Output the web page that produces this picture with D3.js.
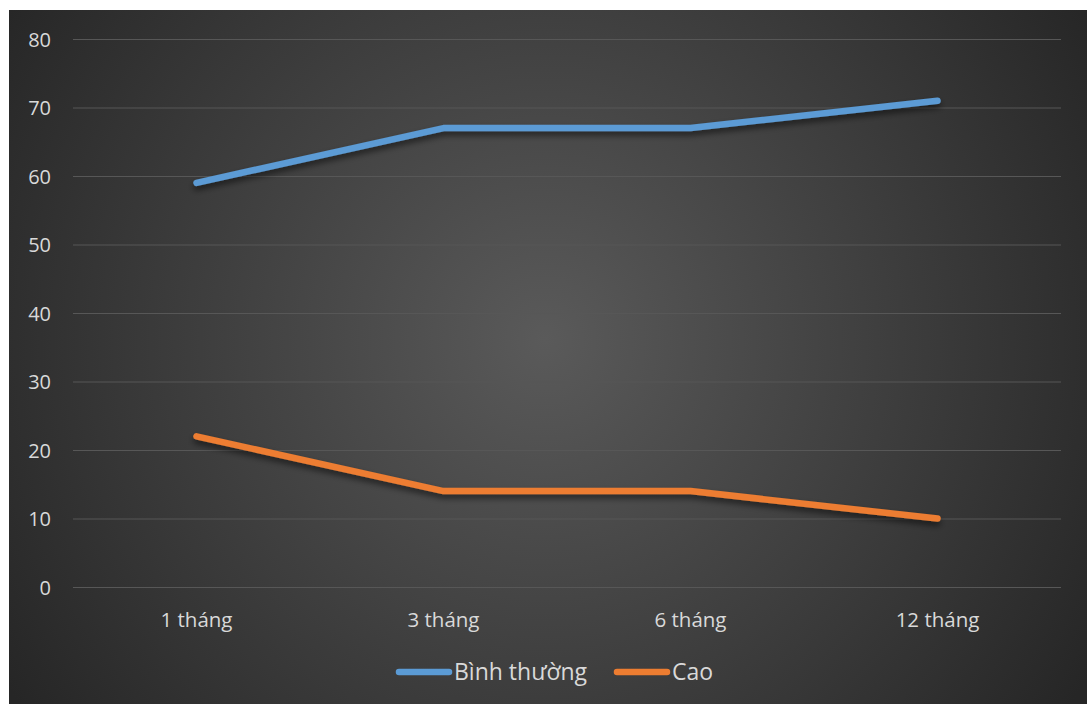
<!DOCTYPE html>
<html>
<head>
<meta charset="utf-8">
<script src="https://cdn.jsdelivr.net/npm/d3@7"></script>
<style>
  html, body { margin: 0; padding: 0; background: #ffffff; }
  svg { display: block; }
</style>
</head>
<body>
<svg id="chart" width="1087" height="704"></svg>
<script>
const categories = ["1 tháng", "3 tháng", "6 tháng", "12 tháng"];
const seriesNames = ["Bình thường", "Cao"];
const normalValues = [59, 67, 67, 71];
const highValues = [22, 14, 14, 10];
const yTicks = [0, 10, 20, 30, 40, 50, 60, 70, 80];
const seriesColors = ["#5B9BD5", "#ED7D31"];

const series = [
  { name: seriesNames[0], values: normalValues, color: seriesColors[0] },
  { name: seriesNames[1], values: highValues, color: seriesColors[1] }
];

const W = 1087, H = 704;
const svg = d3.select("#chart");
const font = "'Open Sans', 'Noto Sans', sans-serif";

const defs = svg.append("defs");
const grad = defs.append("radialGradient")
  .attr("id", "bg").attr("gradientUnits", "userSpaceOnUse")
  .attr("cx", 545).attr("cy", 340).attr("r", 640);
grad.append("stop").attr("offset", "0%").attr("stop-color", "#5a5a5a");
grad.append("stop").attr("offset", "100%").attr("stop-color", "#262626");

const shadow = defs.append("filter").attr("id", "shadow")
  .attr("x", "-10%").attr("y", "-50%").attr("width", "120%").attr("height", "200%");
shadow.append("feDropShadow").attr("dx", 0).attr("dy", 4).attr("stdDeviation", 3)
  .attr("flood-color", "#000").attr("flood-opacity", 0.55);

// Chart background
svg.append("rect").attr("x", 9).attr("y", 10).attr("width", W - 9).attr("height", H - 10)
  .attr("fill", "url(#bg)");

const margin = { left: 73, right: 1061, top: 39, bottom: 587 };
const x = d3.scaleBand().domain(categories).range([margin.left, margin.right]);
const y = d3.scaleLinear().domain([0, 80]).range([margin.bottom, margin.top]);

// Horizontal gridlines
svg.append("g").selectAll("line").data(yTicks).join("line")
  .attr("x1", margin.left).attr("x2", margin.right)
  .attr("y1", d => y(d) + 0.5).attr("y2", d => y(d) + 0.5)
  .attr("stroke", "#575757").attr("stroke-width", 1);

// Y axis labels
const yAxis = d3.axisLeft(y).tickValues(yTicks).tickSize(0).tickPadding(0);
const gy = svg.append("g").attr("transform", `translate(51,1)`).call(yAxis);
gy.select(".domain").remove();
gy.selectAll("text").attr("fill", "#d9d9d9").style("font-family", font).style("font-size", "20px");

// X axis labels
const xAxis = d3.axisBottom(x).tickSize(0).tickPadding(0);
const gx = svg.append("g").attr("transform", `translate(0,612)`).call(xAxis);
gx.select(".domain").remove();
gx.selectAll("text").attr("fill", "#d9d9d9").style("font-family", font).style("font-size", "20.5px");

// Series lines
const line = d3.line()
  .x((d, i) => x(categories[i]) + x.bandwidth() / 2)
  .y(d => y(d));

svg.append("g").selectAll("path").data(series).join("path")
  .attr("d", d => line(d.values))
  .attr("fill", "none")
  .attr("stroke", d => d.color)
  .attr("stroke-width", 6.5)
  .attr("stroke-linecap", "round")
  .attr("stroke-linejoin", "round")
  .attr("filter", "url(#shadow)");

// Legend
const legendItems = [
  { s: series[0], x0: 396 },
  { s: series[1], x0: 614 }
];
const lg = svg.append("g");
legendItems.forEach(it => {
  lg.append("line")
    .attr("x1", it.x0 + 3).attr("x2", it.x0 + 53)
    .attr("y1", 672).attr("y2", 672)
    .attr("stroke", it.s.color).attr("stroke-width", 6.5)
    .attr("stroke-linecap", "round");
  lg.append("text")
    .attr("x", it.x0 + 58).attr("y", 680)
    .attr("fill", "#d9d9d9")
    .style("font-family", font).style("font-size", "23px")
    .text(it.s.name);
});
</script>
</body>
</html>
